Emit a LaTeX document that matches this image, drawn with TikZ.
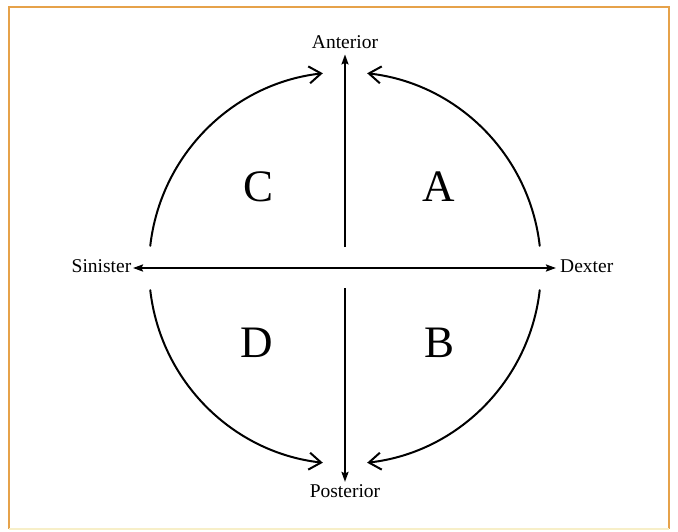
\documentclass[tikz,border=0pt]{standalone}
\usepackage{fontspec}
\setmainfont{Liberation Serif}
\usepackage{tikz}
\usetikzlibrary{arrows.meta}
\definecolor{frameorange}{HTML}{E6A24A}
\definecolor{framepale}{HTML}{F7EFC8}
\tikzstyle{axislabel} = [inner sep=2pt, font=\fontsize{19.5}{22}\selectfont]
\tikzstyle{quadrant} = [inner sep=0pt, font=\fontsize{45}{50}\selectfont]
\tikzstyle{axis} = [line width=2pt, ->, >={Stealth[length=10pt,width=7pt,inset=1.5pt]}]
\tikzstyle{sweep} = [line width=2pt, line cap=round, -{Straight Barb[length=12pt,width=17pt]}]

\begin{document}
\begin{tikzpicture}[x=1pt,y=1pt]
  \useasboundingbox (-345,-263) rectangle (333,268);

  % Frame
  \draw[frameorange, line width=1.5pt] (-336,-261) -- (-336,261) -- (324,261) -- (324,-261);
  \draw[framepale, line width=1.5pt] (-336,-261) -- (324,-261);

  % Centre and axis starts
  \coordinate (o) at (0,0);
  \coordinate (ntop) at (0,21);
  \coordinate (nbot) at (0,-20);

  % Direction labels
  \node (anterior) [axislabel, anchor=base, inner ysep=6pt] at (0,220) {Anterior};
  \node (posterior) [axislabel, anchor=base] at (0,-229) {Posterior};
  \node (sinister) [axislabel, anchor=base east, inner xsep=1.5pt] at (-212,-4) {Sinister};
  \node (dexter) [axislabel, anchor=base west, inner xsep=4pt] at (211,-4) {Dexter};

  % Axes
  \draw[axis, <->] (sinister.east |- o) -- (dexter.west |- o);
  \draw[axis] (ntop) -- (anterior.south);
  \draw[axis] (nbot) -- (posterior.north);

  % Quadrant sweeps
  \coordinate (ne) at (6.5:196);
  \coordinate (nw) at (173.5:196);
  \coordinate (sw) at (186.5:196);
  \coordinate (se) at (-6.5:196);
  \draw[sweep] (ne) arc (6.5:83.5:196);
  \draw[sweep] (nw) arc (173.5:96.5:196);
  \draw[sweep] (sw) arc (186.5:263.5:196);
  \draw[sweep] (se) arc (-6.5:-83.5:196);

  % Quadrant letters
  \node (qa) [quadrant] at (93.5,81.5) {A};
  \node (qb) [quadrant] at (94.5,-75) {B};
  \node (qc) [quadrant] at (-86.5,81.5) {C};
  \node (qd) [quadrant] at (-88.5,-75) {D};
\end{tikzpicture}
\end{document}
